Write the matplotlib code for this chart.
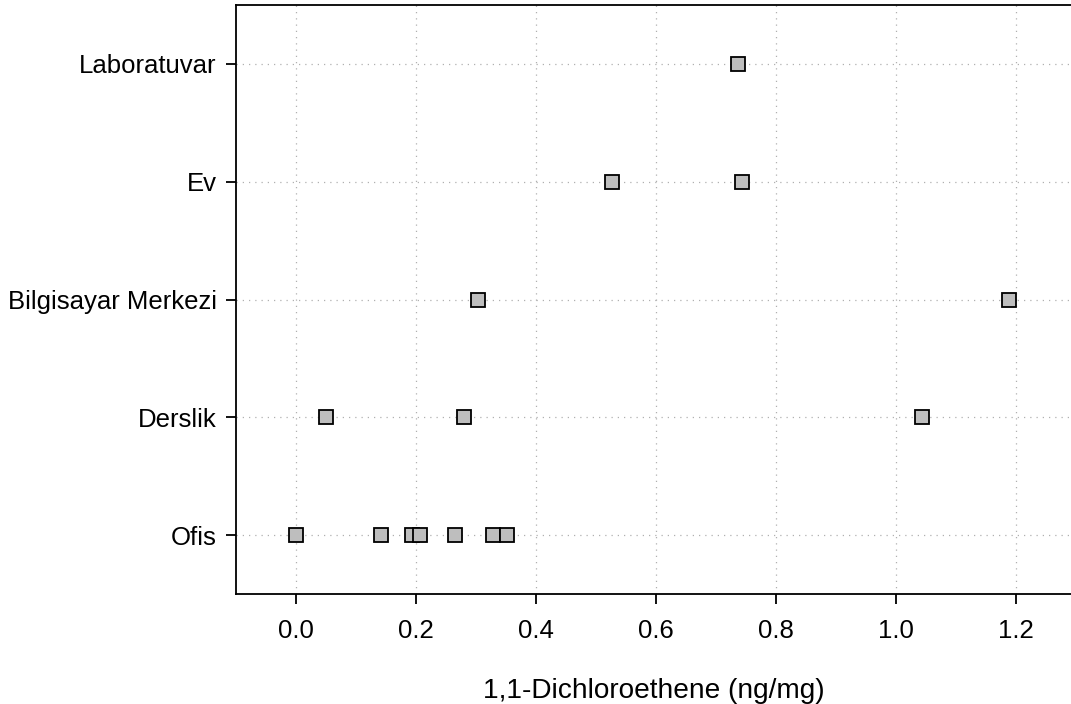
import matplotlib
matplotlib.use("Agg")
import matplotlib.pyplot as plt

# categories, bottom to top
categories = ["Ofis", "Derslik", "Bilgisayar Merkezi", "Ev", "Laboratuvar"]

# measured values per category (ng/mg)
ofis = [0.0, 0.142, 0.193, 0.207, 0.265, 0.329, 0.352]
derslik = [0.0495, 0.2795, 1.043]
bilgisayar = [0.303, 1.188]
ev = [0.526, 0.743]
laboratuvar = [0.737]

series = [ofis, derslik, bilgisayar, ev, laboratuvar]
xticks = [0.0, 0.2, 0.4, 0.6, 0.8, 1.0, 1.2]

plt.rcParams["font.family"] = ["Liberation Sans", "DejaVu Sans"]

fig = plt.figure(figsize=(10.71, 7.04), dpi=100)
ax = fig.add_axes([0.2204, 0.1562, 0.7796, 0.8367])

for i, vals in enumerate(series):
    ax.plot(vals, [i] * len(vals), linestyle="none", marker="s", markersize=9.8,
            markerfacecolor="#bebebe", markeredgecolor="black", markeredgewidth=1.3,
            zorder=3)

ax.set_xlim(-0.1, 1.2917)
ax.set_ylim(-0.5, 4.5)
ax.set_xticks(xticks)
ax.set_xticklabels([f"{t:.1f}" for t in xticks])
ax.set_yticks(range(len(categories)))
ax.set_yticklabels(categories)

ax.grid(True, color="#b0b0b0", linestyle=(0, (1, 4)), linewidth=0.9)
ax.set_axisbelow(True)

for side in ["left", "bottom", "top"]:
    ax.spines[side].set_linewidth(1.3)
ax.spines["right"].set_visible(False)

ax.tick_params(axis="both", direction="out", length=7, width=1.3, labelsize=18.5)
ax.tick_params(axis="x", pad=11)
ax.tick_params(axis="y", pad=7)

ax.set_xlabel("1,1-Dichloroethene (ng/mg)", fontsize=20.2, labelpad=25)

fig.savefig("out.png", dpi=100)
